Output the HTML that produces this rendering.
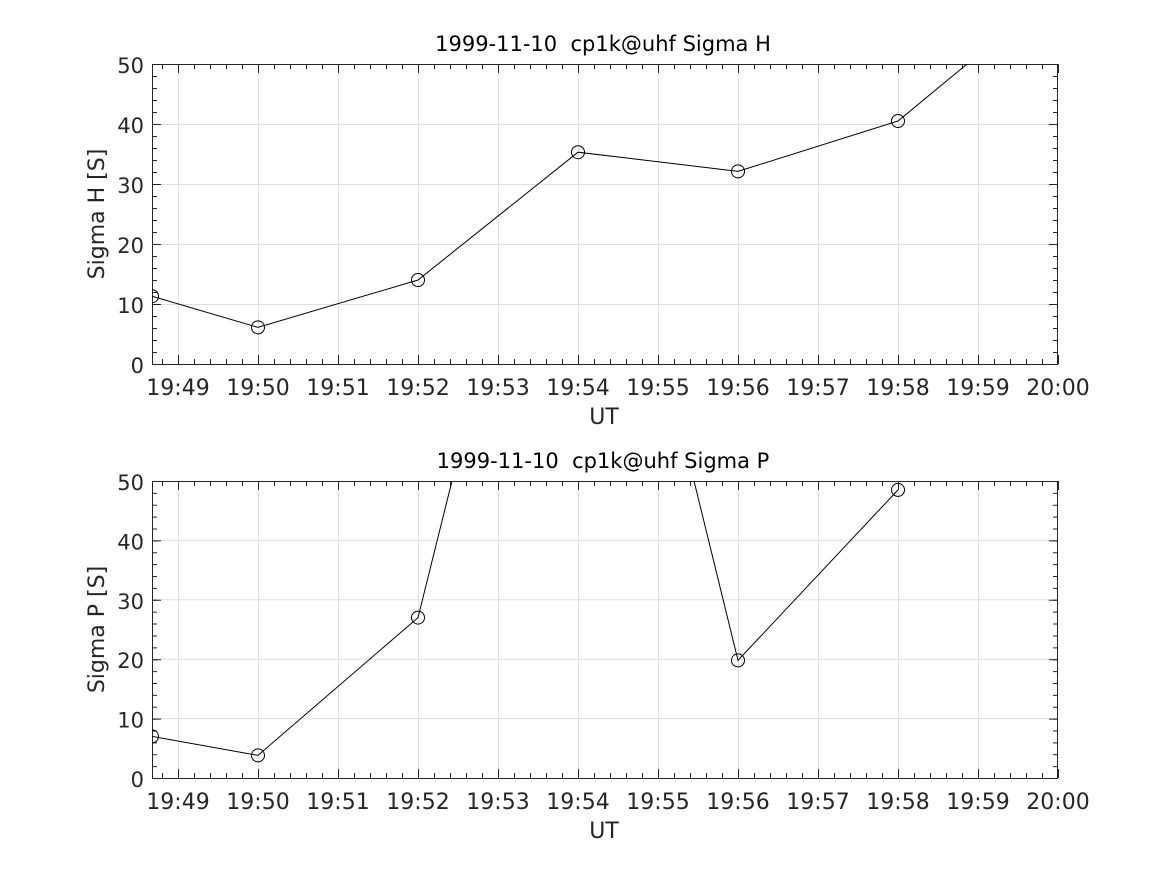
<!DOCTYPE html><html><head><style>body{margin:0;background:#fff}svg{display:block}text{font-family:"DejaVu Sans","Liberation Sans",sans-serif;fill:#262626}</style></head><body>
<svg width="1167" height="875" xmlns="http://www.w3.org/2000/svg">
<defs>
<clipPath id="c1"><rect x="152" y="64" width="906" height="300"/></clipPath>
<clipPath id="c2"><rect x="152" y="481" width="906" height="297"/></clipPath>
</defs>
<rect width="1167" height="875" fill="#fff"/>

<!-- ===== TOP PANEL ===== -->
<g>
<line x1="178" x2="1058" y1="214" y2="214" stroke="#dfdfdf" stroke-width="300" stroke-dasharray="1 79"/>
<g stroke="#dfdfdf" stroke-width="1">
<line x1="152" x2="1058" y1="304.5" y2="304.5"/><line x1="152" x2="1058" y1="244.5" y2="244.5"/>
<line x1="152" x2="1058" y1="184.5" y2="184.5"/><line x1="152" x2="1058" y1="124.5" y2="124.5"/>
</g>
<g stroke="#262626">
<line x1="162" x2="1060" y1="361.5" y2="361.5" stroke-width="5" stroke-dasharray="1 15"/>
<line x1="162" x2="1060" y1="66.5" y2="66.5" stroke-width="5" stroke-dasharray="1 15"/>
<line x1="178" x2="1060" y1="359.5" y2="359.5" stroke-width="9" stroke-dasharray="1 79"/>
<line x1="178" x2="1060" y1="68.5" y2="68.5" stroke-width="9" stroke-dasharray="1 79"/>
<line x1="154.5" x2="154.5" y1="64" y2="366" stroke-width="5" stroke-dasharray="1 11"/>
<line x1="1055.5" x2="1055.5" y1="64" y2="366" stroke-width="5" stroke-dasharray="1 11"/>
<line x1="156.5" x2="156.5" y1="64" y2="366" stroke-width="9" stroke-dasharray="1 59"/>
<line x1="1053.5" x2="1053.5" y1="64" y2="366" stroke-width="9" stroke-dasharray="1 59"/>
</g>
<rect x="152.5" y="64.5" width="905" height="300" fill="none" stroke="#262626"/>
<g font-size="21" text-anchor="end">
<text x="144" y="373">0</text><text x="144" y="313">10</text><text x="144" y="253">20</text>
<text x="144" y="193">30</text><text x="144" y="133">40</text><text x="144" y="73">50</text>
</g>
<g font-size="22" text-anchor="middle">
<text x="178" y="395">19:49</text><text x="258" y="395">19:50</text><text x="338" y="395">19:51</text>
<text x="418" y="395">19:52</text><text x="498" y="395">19:53</text><text x="578" y="395">19:54</text>
<text x="658" y="395">19:55</text><text x="738" y="395">19:56</text><text x="818" y="395">19:57</text>
<text x="898" y="395">19:58</text><text x="978" y="395">19:59</text><text x="1058" y="395">20:00</text>
<text x="604" y="424">UT</text>
</g>
<text x="603" y="51" font-size="21" text-anchor="middle" style="fill:#000;white-space:pre" xml:space="preserve">1999-11-10  cp1k@uhf Sigma H</text>
<text transform="translate(104 214) rotate(-90)" font-size="22" text-anchor="middle">Sigma H [S]</text>
<g clip-path="url(#c1)" fill="none" stroke="#000" stroke-width="1">
<polyline points="152,296.2 258,327.4 418,280 578,152.2 738,171.4 898,121 1058,-11"/>
<circle cx="152" cy="296.2" r="6.5"/><circle cx="258" cy="327.4" r="6.5"/><circle cx="418" cy="280" r="6.5"/>
<circle cx="578" cy="152.2" r="6.5"/><circle cx="738" cy="171.4" r="6.5"/><circle cx="898" cy="121" r="6.5"/>
</g>
</g>

<!-- ===== BOTTOM PANEL ===== -->
<g>
<line x1="178" x2="1058" y1="629.5" y2="629.5" stroke="#dfdfdf" stroke-width="297" stroke-dasharray="1 79"/>
<g stroke="#dfdfdf" stroke-width="1">
<line x1="152" x2="1058" y1="718.6" y2="718.6"/><line x1="152" x2="1058" y1="659.2" y2="659.2"/>
<line x1="152" x2="1058" y1="599.8" y2="599.8"/><line x1="152" x2="1058" y1="540.4" y2="540.4"/>
</g>
<g stroke="#262626">
<line x1="162" x2="1060" y1="775.5" y2="775.5" stroke-width="5" stroke-dasharray="1 15"/>
<line x1="162" x2="1060" y1="483.5" y2="483.5" stroke-width="5" stroke-dasharray="1 15"/>
<line x1="178" x2="1060" y1="773.5" y2="773.5" stroke-width="9" stroke-dasharray="1 79"/>
<line x1="178" x2="1060" y1="485.5" y2="485.5" stroke-width="9" stroke-dasharray="1 79"/>
<line x1="154.5" x2="154.5" y1="481" y2="780" stroke-width="5" stroke-dasharray="1 10.88"/>
<line x1="1055.5" x2="1055.5" y1="481" y2="780" stroke-width="5" stroke-dasharray="1 10.88"/>
<line x1="156.5" x2="156.5" y1="481" y2="780" stroke-width="9" stroke-dasharray="1 58.4"/>
<line x1="1053.5" x2="1053.5" y1="481" y2="780" stroke-width="9" stroke-dasharray="1 58.4"/>
</g>
<rect x="152.5" y="481.5" width="905" height="297" fill="none" stroke="#262626"/>
<g font-size="21" text-anchor="end">
<text x="144" y="787">0</text><text x="144" y="727.6">10</text><text x="144" y="668.2">20</text>
<text x="144" y="608.8">30</text><text x="144" y="549.4">40</text><text x="144" y="490">50</text>
</g>
<g font-size="22" text-anchor="middle">
<text x="178" y="809">19:49</text><text x="258" y="809">19:50</text><text x="338" y="809">19:51</text>
<text x="418" y="809">19:52</text><text x="498" y="809">19:53</text><text x="578" y="809">19:54</text>
<text x="658" y="809">19:55</text><text x="738" y="809">19:56</text><text x="818" y="809">19:57</text>
<text x="898" y="809">19:58</text><text x="978" y="809">19:59</text><text x="1058" y="809">20:00</text>
<text x="604" y="838">UT</text>
</g>
<text x="603" y="468" font-size="21" text-anchor="middle" style="fill:#000;white-space:pre" xml:space="preserve">1999-11-10  cp1k@uhf Sigma P</text>
<text transform="translate(104 629.5) rotate(-90)" font-size="22" text-anchor="middle">Sigma P [S]</text>
<g clip-path="url(#c2)" fill="none" stroke="#000" stroke-width="1">
<polyline points="152,736.4 258,755.4 418,617.6 498,296 658,334 738,660.4 898,489.9"/>
<circle cx="152" cy="736.4" r="6.5"/><circle cx="258" cy="755.4" r="6.5"/><circle cx="418" cy="617.6" r="6.5"/>
<circle cx="738" cy="660.4" r="6.5"/><circle cx="898" cy="489.9" r="6.5"/>
</g>
</g>
</svg>
</body></html>
